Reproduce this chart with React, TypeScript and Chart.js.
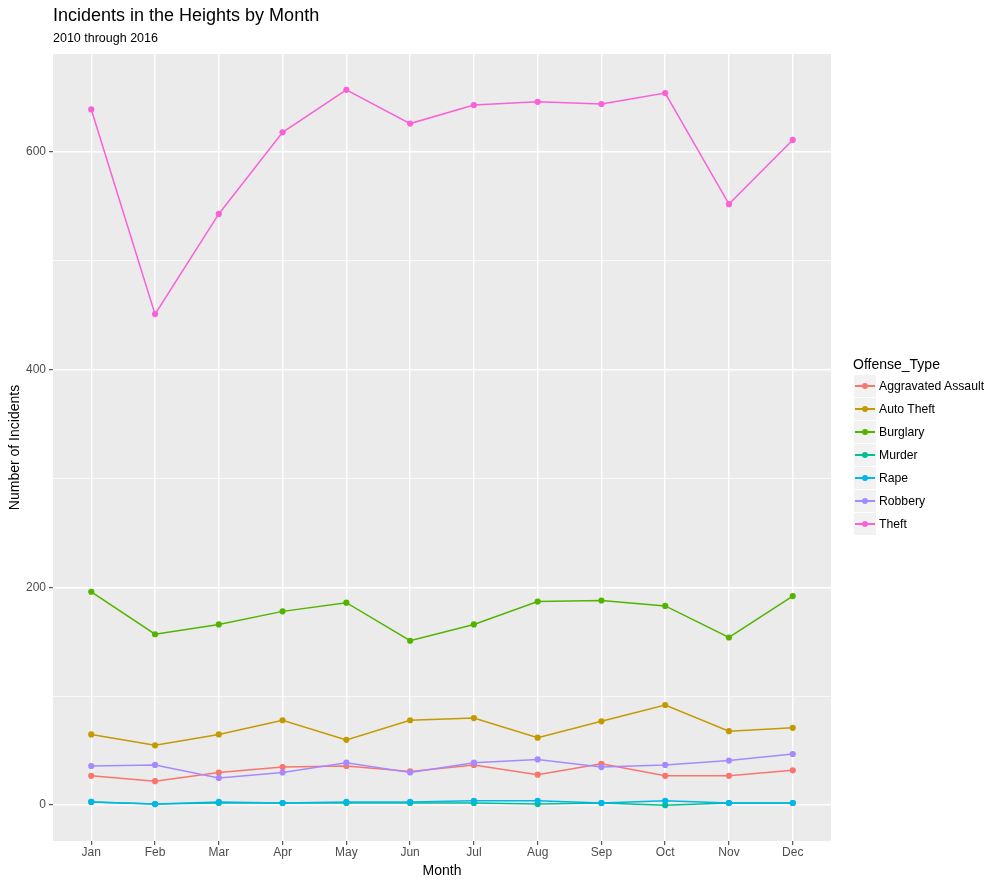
import React, { useEffect, useRef } from "react";
import { Chart, registerables } from "chart.js";

Chart.register(...registerables);

const months = ["Jan", "Feb", "Mar", "Apr", "May", "Jun", "Jul", "Aug", "Sep", "Oct", "Nov", "Dec"];
const offenseTypes = ["Aggravated Assault", "Auto Theft", "Burglary", "Murder", "Rape", "Robbery", "Theft"];
const aggravatedAssault = [27, 22, 30, 35, 36, 31, 37, 28, 38, 27, 27, 32];
const autoTheft = [65, 55, 65, 78, 60, 78, 80, 62, 77, 92, 68, 71];
const burglary = [196, 157, 166, 178, 186, 151, 166, 187, 188, 183, 154, 192];
const murder = [3, 1, 2, 2, 2, 2, 2, 1, 2, 0, 2, 2];
const rape = [3, 1, 3, 2, 3, 3, 4, 4, 2, 4, 2, 2];
const robbery = [36, 37, 25, 30, 39, 30, 39, 42, 35, 37, 41, 47];
const theft = [639, 451, 543, 618, 657, 626, 643, 646, 644, 654, 552, 611];
const yTickValues = [0, 200, 400, 600];

const seriesValues = [aggravatedAssault, autoTheft, burglary, murder, rape, robbery, theft];
const colors = ["#F8766D", "#C49A00", "#53B400", "#00C094", "#00B6EB", "#A58AFF", "#FB61D7"];

const FONT = "'Liberation Sans', Arial, Helvetica, sans-serif";

const panelBg = {
  id: "panelBg",
  beforeDraw(chart: any) {
    const { ctx, chartArea } = chart;
    ctx.save();
    ctx.fillStyle = "#EBEBEB";
    ctx.fillRect(chartArea.left, chartArea.top, chartArea.right - chartArea.left, chartArea.bottom - chartArea.top);
    ctx.restore();
  },
};

export default function App() {
  const ref = useRef<HTMLCanvasElement | null>(null);

  useEffect(() => {
    if (!ref.current) return;
    const datasets: any[] = [];
    seriesValues.forEach((vals, k) => {
      datasets.push({
        label: offenseTypes[k] + " line",
        data: vals.map((v, i) => ({ x: i, y: v })),
        borderColor: colors[k],
        backgroundColor: colors[k],
        borderWidth: 1.5,
        pointRadius: 0,
        fill: false,
        order: 20 - k,
      });
    });
    seriesValues.forEach((vals, k) => {
      datasets.push({
        label: offenseTypes[k],
        data: vals.map((v, i) => ({ x: i, y: v })),
        borderColor: colors[k],
        backgroundColor: colors[k],
        showLine: false,
        pointRadius: 3.1,
        pointBorderWidth: 0,
        pointHoverRadius: 3.1,
        order: 6 - k,
      });
    });

    const chart = new Chart(ref.current, {
      type: "line",
      data: { datasets },
      plugins: [panelBg],
      options: {
        animation: false,
        responsive: false,
        devicePixelRatio: 1,
        events: [],
        layout: { padding: { top: 54, right: 169, left: 0, bottom: 0 } },
        plugins: { legend: { display: false }, tooltip: { enabled: false }, title: { display: false } },
        scales: {
          x: {
            type: "linear",
            min: -0.6,
            max: 11.6,
            border: { display: false },
            grid: {
              color: "#FFFFFF",
              lineWidth: 1.4,
              tickLength: 4,
              tickColor: "#333333",
              tickWidth: 1,
            },
            ticks: {
              stepSize: 1,
              includeBounds: false,
              autoSkip: false,
              maxRotation: 0,
              padding: 0,
              color: "#4D4D4D",
              font: { family: FONT, size: 12 },
              callback: (v: any) => months[Math.round(Number(v))] ?? "",
            },
            title: {
              display: true,
              text: "Month",
              color: "#000000",
              font: { family: FONT, size: 14 },
              padding: { top: 0, bottom: 1.6 },
            },
            afterFit: (scale: any) => {
              scale.height = 40;
            },
          },
          y: {
            type: "linear",
            min: -32.9,
            max: 689.9,
            border: { display: false },
            grid: {
              color: "#FFFFFF",
              lineWidth: (c: any) => (yTickValues.includes(c.tick?.value) ? 1.4 : 0.7),
              tickLength: 4,
              tickColor: (c: any) => (yTickValues.includes(c.tick?.value) ? "#333333" : "rgba(0,0,0,0)"),
              tickWidth: 1,
            },
            ticks: {
              stepSize: 100,
              includeBounds: false,
              autoSkip: false,
              padding: 3,
              color: "#4D4D4D",
              font: { family: FONT, size: 12 },
              callback: (v: any) => (yTickValues.includes(Number(v)) ? String(v) : ""),
            },
            title: {
              display: true,
              text: "Number of Incidents",
              color: "#000000",
              font: { family: FONT, size: 14 },
              padding: { top: 6.5, bottom: 0 },
            },
            afterFit: (scale: any) => {
              scale.width = 53;
            },
          },
        },
      } as any,
    });
    return () => chart.destroy();
  }, []);

  return (
    <div style={{ position: "absolute", left: 0, top: 0, width: 1000, height: 881, background: "#FFFFFF", fontFamily: FONT, overflow: "hidden" }}>
      <canvas ref={ref} width={1000} height={881} style={{ position: "absolute", left: 0, top: 0, width: 1000, height: 881 }} />
      <div style={{ position: "absolute", left: 53, top: 6, fontSize: 18, lineHeight: "18px", color: "#000", whiteSpace: "nowrap" }}>
        Incidents in the Heights by Month
      </div>
      <div style={{ position: "absolute", left: 53, top: 32.4, fontSize: 12.5, lineHeight: "12.5px", color: "#000", whiteSpace: "nowrap" }}>
        2010 through 2016
      </div>
      <div style={{ position: "absolute", left: 853, top: 354, height: 20, lineHeight: "20px", fontSize: 14, color: "#000", whiteSpace: "nowrap" }}>
        Offense_Type
      </div>
      {offenseTypes.map((name, k) => (
        <div key={name}>
          <div style={{ position: "absolute", left: 854, top: 375 + 23 * k, width: 22, height: 22, background: "#F2F2F2" }} />
          <div style={{ position: "absolute", left: 855, top: 385.3 + 23 * k, width: 20, height: 1.4, background: colors[k] }} />
          <div style={{ position: "absolute", left: 862, top: 383 + 23 * k, width: 6, height: 6, borderRadius: 3, background: colors[k] }} />
          <div style={{ position: "absolute", left: 879, top: 376 + 23 * k, height: 20, lineHeight: "20px", fontSize: 12.2, color: "#000", whiteSpace: "nowrap" }}>
            {name}
          </div>
        </div>
      ))}
    </div>
  );
}
